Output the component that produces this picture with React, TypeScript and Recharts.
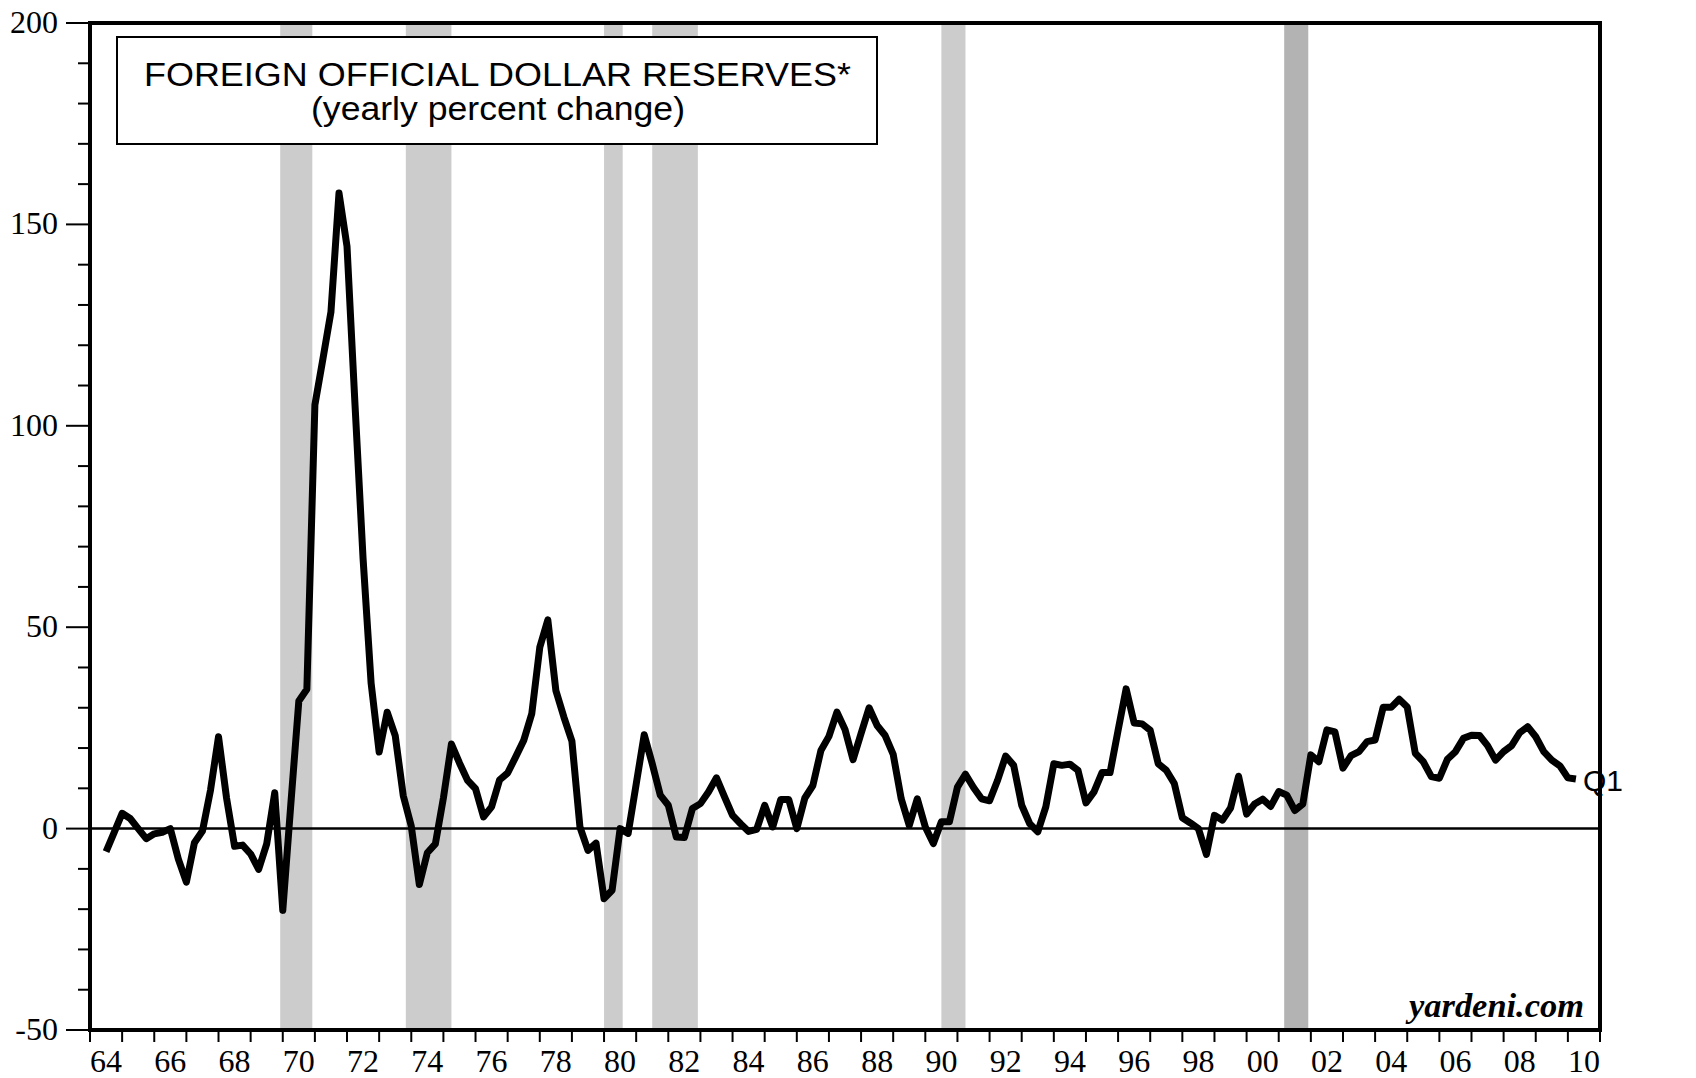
import React from "react";
import {
  LineChart,
  Line,
  XAxis,
  YAxis,
  ReferenceArea,
  ReferenceLine,
  LabelList,
} from "recharts";

// quarterly, first point is 1964Q2 (plotted at quarter end)
const FIRST_QUARTER = 1964.5;
const LAST_LABEL = "Q1";

// yearly percent change, one row per year
const reserveChange = [
  -5.7, -1.0, 3.8,
  2.5, 0.0, -2.5, -1.3,
  -0.9, 0.0, -7.6, -13.3,
  -3.5, -0.6, 9.5, 22.8,
  7.6, -4.4, -4.1, -6.3,
  -10.1, -3.8, 8.9, -20.3,
  6.0, 31.7, 34.6, 105.2,
  116.6, 128.3, 157.8, 144.5,
  105.0, 67.0, 36.1, 19.0,
  28.9, 23.1, 8.2, 0.6,
  -13.9, -6.0, -3.8, 7.6,
  21.0, 16.3, 12.0, 9.9,
  2.9, 5.4, 12.1, 13.8,
  17.8, 21.9, 28.5, 45.0,
  51.8, 34.3, 27.7, 21.7,
  0.4, -5.4, -3.6, -17.4,
  -15.3, 0.0, -1.2, 11.0,
  23.3, 16.1, 8.3, 5.8,
  -2.1, -2.2, 5.0, 6.2,
  9.1, 12.6, 7.9, 3.3,
  1.2, -0.7, -0.2, 5.8,
  0.4, 7.2, 7.2, 0.0,
  7.6, 10.7, 19.4, 22.9,
  28.9, 24.6, 17.1, 23.6,
  30.0, 25.6, 23.1, 18.4,
  7.4, 0.8, 7.4, 0.4,
  -3.7, 1.7, 1.7, 10.3,
  13.5, 10.2, 7.4, 6.9,
  12.0, 18.0, 15.7, 5.8,
  1.2, -0.8, 5.4, 16.1,
  15.7, 16.0, 14.5, 6.4,
  9.1, 13.9, 13.9, 24.4,
  34.7, 26.2, 26.0, 24.4,
  16.1, 14.5, 11.2, 2.7,
  1.4, 0.0, -6.4, 3.3,
  2.1, 5.1, 13.0, 3.6,
  6.1, 7.3, 5.5, 9.2,
  8.3, 4.5, 6.1, 18.3,
  16.6, 24.5, 24.0, 15.0,
  18.1, 19.1, 21.6, 22.0,
  30.1, 30.1, 32.1, 30.2,
  18.7, 16.6, 12.9, 12.5,
  17.2, 19.1, 22.4, 23.2,
  23.1, 20.6, 17.0, 19.1,
  20.6, 23.8, 25.3, 22.8,
  19.1, 17.0, 15.6, 12.6,
  12.3,
];

// NBER recessions (decimal years)
const recessions = [
  { start: 1969.92, end: 1970.92 },
  { start: 1973.83, end: 1975.25 },
  { start: 1980.0, end: 1980.58 },
  { start: 1981.5, end: 1982.92 },
  { start: 1990.5, end: 1991.25 },
  { start: 2001.17, end: 2001.92 },
];

const yTicks = [
  -50, -40, -30, -20, -10, 0, 10, 20, 30, 40, 50, 60, 70, 80, 90, 100, 110,
  120, 130, 140, 150, 160, 170, 180, 190, 200,
];
const X_MIN = 1964;
const X_MAX = 2011;
// a tick at each year (tick mark) and each mid-year (label slot)
const xTicks = Array.from({ length: (X_MAX - X_MIN) * 2 + 1 }, (_, i) => X_MIN + i / 2);

const data = reserveChange.map((value, i) => ({ t: FIRST_QUARTER + i * 0.25, value }));

const SERIF = "'Liberation Serif', 'Times New Roman', serif";
const SANS = "'Liberation Sans', Arial, sans-serif";
const TICK_FONT = 32;

const yearLabel = (v: number) => String(Math.floor(v) % 100).padStart(2, "0");

const BottomTick = ({ x, y, payload }: any) => {
  const v = payload.value;
  if (Number.isInteger(v)) {
    return <line x1={x} x2={x} y1={y} y2={y + 12} stroke="#000" strokeWidth={2} />;
  }
  if (Math.floor(v) % 2 !== 0) return <g />;
  return (
    <text x={x} y={y + 42} textAnchor="middle" fontFamily={SERIF} fontSize={TICK_FONT} fill="#000">
      {yearLabel(v)}
    </text>
  );
};

const LeftTick = ({ x, y, payload }: any) => {
  const major = payload.value % 50 === 0;
  return (
    <g>
      <line x1={x - (major ? 24 : 12)} x2={x} y1={y} y2={y} stroke="#000" strokeWidth={2} />
      {major && (
        <text x={x - 32} y={y + 10} textAnchor="end" fontFamily={SERIF} fontSize={TICK_FONT} fill="#000">
          {payload.value}
        </text>
      )}
    </g>
  );
};

const RightTick = ({ x, y, payload }: any) => {
  const major = payload.value % 50 === 0;
  return (
    <g>
      <line x1={x} x2={x + (major ? 25 : 13)} y1={y} y2={y} stroke="#000" strokeWidth={2} />
      {major && (
        <text x={x + 32} y={y + 10} textAnchor="start" fontFamily={SERIF} fontSize={TICK_FONT} fill="#000">
          {payload.value}
        </text>
      )}
    </g>
  );
};

const frame = { stroke: "#000", strokeWidth: 4, strokeLinecap: "square" as const };

export default function App() {
  return (
    <div style={{ position: "absolute", left: 0, top: 0, width: 1696, height: 1078, background: "#fff" }}>
      <LineChart width={1696} height={1078} data={data} margin={{ top: 23, right: 0, bottom: 0, left: 0 }}>
        <XAxis
          dataKey="t"
          type="number"
          domain={[X_MIN, X_MAX]}
          ticks={xTicks}
          interval={0}
          height={48}
          tickSize={0}
          tickMargin={0}
          tickLine={false}
          axisLine={frame}
          tick={(p: any) => <BottomTick {...p} />}
        />
        <YAxis
          yAxisId="left"
          domain={[-50, 200]}
          ticks={yTicks}
          interval={0}
          width={90}
          tickSize={0}
          tickMargin={0}
          tickLine={false}
          axisLine={frame}
          tick={(p: any) => <LeftTick {...p} />}
        />
        <YAxis
          yAxisId="right"
          orientation="right"
          domain={[-50, 200]}
          ticks={yTicks}
          interval={0}
          width={96}
          tickSize={0}
          tickMargin={0}
          tickLine={false}
          axisLine={frame}
          tick={(p: any) => <RightTick {...p} />}
        />
        {recessions.map((r, i) => (
          <ReferenceArea
            key={i}
            yAxisId="left"
            x1={r.start}
            x2={r.end}
            y1={-50}
            y2={200}
            fill={i === recessions.length - 1 ? "#b3b3b3" : "#cccccc"}
            fillOpacity={1}
            stroke="none"
          />
        ))}
        <ReferenceLine yAxisId="left" y={0} stroke="#000" strokeWidth={2.5} />
        <ReferenceLine yAxisId="left" y={200} stroke="#000" strokeWidth={4} strokeLinecap="square" />
        <Line
          yAxisId="left"
          type="linear"
          dataKey="value"
          stroke="#000"
          strokeWidth={7}
          strokeLinejoin="round"
          dot={false}
          activeDot={false}
          isAnimationActive={false}
        >
          <LabelList
            dataKey="value"
            content={(p: any) =>
              p.index === data.length - 1 ? (
                <text x={p.x + 7} y={p.y + 12} fontFamily={SANS} fontSize={30} fill="#000">
                  {LAST_LABEL}
                </text>
              ) : null
            }
          />
        </Line>
      </LineChart>
      <svg
        width={1696}
        height={1078}
        style={{ position: "absolute", left: 0, top: 0, pointerEvents: "none" }}
      >
        <rect x={117} y={37} width={760} height={107} fill="#fff" stroke="#000" strokeWidth={2} />
        <text x={144} y={86} fontFamily={SANS} fontSize={33} fill="#000" textLength={707} lengthAdjust="spacingAndGlyphs">
          FOREIGN OFFICIAL DOLLAR RESERVES*
        </text>
        <text x={311} y={120} fontFamily={SANS} fontSize={33} fill="#000" textLength={374} lengthAdjust="spacingAndGlyphs">
          (yearly percent change)
        </text>
        <text
          x={1584}
          y={1017}
          textAnchor="end"
          fontFamily={SERIF}
          fontSize={34}
          fontWeight="bold"
          fontStyle="italic"
          fill="#000"
          textLength={175}
          lengthAdjust="spacingAndGlyphs"
        >
          yardeni.com
        </text>
      </svg>
    </div>
  );
}
